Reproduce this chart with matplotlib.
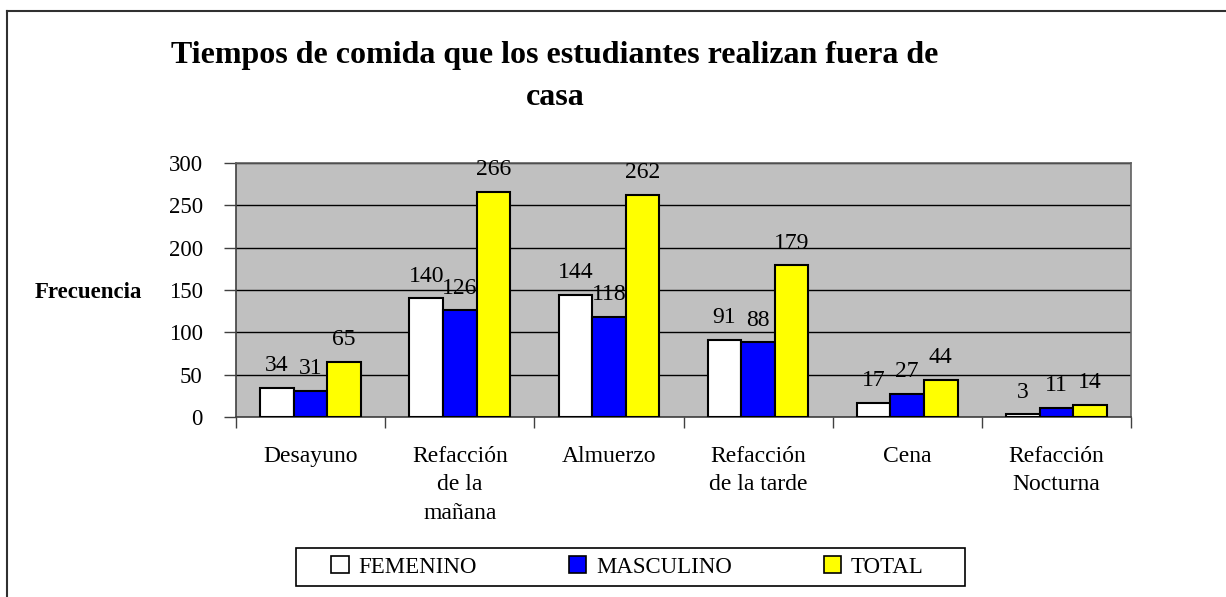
import matplotlib
matplotlib.use("Agg")
import matplotlib.pyplot as plt
import numpy as np
from matplotlib.patches import Rectangle
from matplotlib.lines import Line2D

categories = ["Desayuno", "Refacción\nde la\nmañana", "Almuerzo",
              "Refacción\nde la tarde", "Cena", "Refacción\nNocturna"]
femenino = [34, 140, 144, 91, 17, 3]
masculino = [31, 126, 118, 88, 27, 11]
total = [65, 266, 262, 179, 44, 14]
series_names = ["FEMENINO", "MASCULINO", "TOTAL"]
series_colors = ["#FFFFFF", "#0000FF", "#FFFF00"]
yticks = [0, 50, 100, 150, 200, 250, 300]

plt.rcParams['font.family'] = ['Liberation Serif', 'DejaVu Serif']

W, H = 1226, 597
fig = plt.figure(figsize=(W / 100, H / 100), dpi=100)
ax = fig.add_axes([236 / W, 1 - 417 / H, (1131 - 236) / W, (417 - 163) / H])
ax.set_facecolor("#C0C0C0")

x = np.arange(len(categories))
bw = 0.225
series = [femenino, masculino, total]
for i, (vals, col, name) in enumerate(zip(series, series_colors, series_names)):
    bars = ax.bar(x + (i - 1) * bw, vals, bw, color=col, edgecolor="black",
                  linewidth=1.5, label=name, zorder=3)
    for b, v in zip(bars, vals):
        ax.annotate(str(v), (b.get_x() + b.get_width() / 2, b.get_height()),
                    xytext=(0, 8.5), textcoords="offset points",
                    ha="center", va="bottom", fontsize=17, zorder=4)

ax.set_xlim(-0.5, len(categories) - 0.5)
ax.set_ylim(0, 300)
ax.set_yticks(yticks)
ax.set_yticklabels([str(t) for t in yticks], fontsize=16.5)
ax.yaxis.grid(True, color="black", linewidth=1.0, zorder=1)
ax.set_axisbelow(True)
ax.tick_params(axis="y", direction="out", length=9, width=1, color="#404040", pad=15)

ax.set_xticks(x)
ax.set_xticklabels(categories, fontsize=17, linespacing=1.45)
ax.tick_params(axis="x", which="major", length=0, pad=21)
ax.set_xticks(np.arange(len(categories) + 1) - 0.5, minor=True)
ax.tick_params(axis="x", which="minor", direction="out", length=8, width=1, color="#404040")

for s in ax.spines.values():
    s.set_color("#606060")
    s.set_linewidth(1.2)
ax.spines["left"].set_color("#404040")
ax.spines["bottom"].set_color("#404040")

fig.text(555 / W, 1 - 63 / H, "Tiempos de comida que los estudiantes realizan fuera de",
         ha="center", va="baseline", fontsize=23, fontweight="bold")
fig.text(555 / W, 1 - 105 / H, "casa", ha="center", va="baseline",
         fontsize=23, fontweight="bold")
fig.text(88 / W, 1 - 293 / H, "Frecuencia", ha="center", va="center",
         fontsize=16.5, fontweight="bold")

# legend frame
fig.add_artist(Rectangle((296 / W, 1 - 586 / H), (965 - 296) / W, (586 - 548) / H,
                         transform=fig.transFigure, facecolor="white",
                         edgecolor="black", linewidth=1.2, zorder=1))
handles = [Rectangle((0, 0), 1, 1, facecolor=c, edgecolor="black", linewidth=1.2)
           for c in series_colors]
leg = fig.legend(handles, series_names, loc="center",
                 bbox_to_anchor=(627.5 / W, 1 - 567 / H),
                 ncol=3, fontsize=16.5, frameon=False,
                 handlelength=0.75, handleheight=0.75, handletextpad=0.44,
                 columnspacing=4.0, borderpad=0, borderaxespad=0)
leg.set_zorder(2)

# outer chart border (top and left visible)
fig.add_artist(Line2D([7 / W, 7 / W], [0, 1 - 11 / H], transform=fig.transFigure,
                      color="#303030", linewidth=1.5))
fig.add_artist(Line2D([7 / W, 1], [1 - 11 / H, 1 - 11 / H], transform=fig.transFigure,
                      color="#303030", linewidth=1.5))

fig.savefig("out.png", dpi=100)
